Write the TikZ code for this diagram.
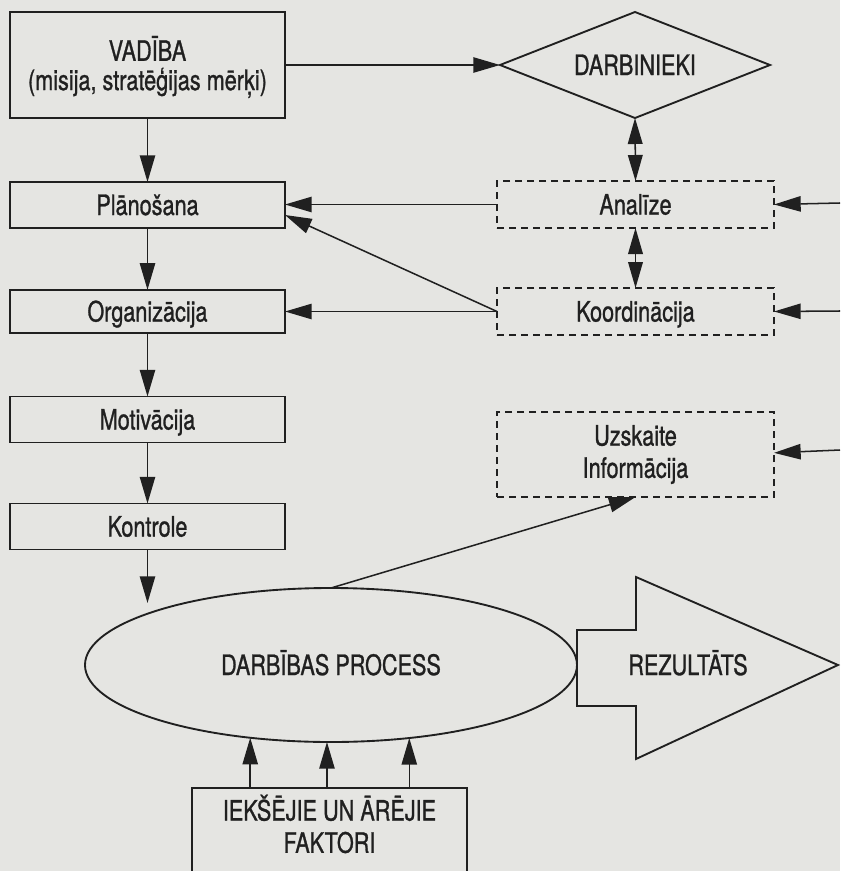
\documentclass[tikz,border=0pt]{standalone}
\usepackage{fontspec}
\setmainfont[FakeStretch=0.77,FakeBold=1.0]{TeX Gyre Heros}
\usetikzlibrary{arrows.meta,shapes.geometric}
\definecolor{paper}{RGB}{229,229,226}
\definecolor{ink}{RGB}{32,32,32}
\begin{document}
\begin{tikzpicture}[x=0.03cm,y=-0.03cm,
  every node/.style={text=ink,inner sep=0pt,outer sep=0pt,
    font=\fontsize{24}{27.5}\selectfont},
  oneline/.style={text height=0.6cm,text depth=0pt},
  box/.style={draw=ink,line width=1.6pt,rectangle,
    minimum width=8.25cm,minimum height=1.38cm},
  dbox/.style={box,dash pattern=on 0.21cm off 0.15cm,
    minimum width=8.31cm,minimum height=1.41cm},
  arr/.style={draw=ink,line width=1.3pt,
    -{Triangle[length=0.8cm,width=0.46cm]}},
  darr/.style={draw=ink,line width=1.3pt,
    {Triangle[length=0.78cm,width=0.44cm]}-{Triangle[length=0.78cm,width=0.44cm]}},
]
\useasboundingbox (0,0) rectangle (840,871);
\fill[paper] (0,0) rectangle (840,871);
\clip (0,0) rectangle (840,871);

% management chain on the left
\node[box,minimum height=3.18cm] (vad) at (147.5,65) {};
\node[align=center,font=\fontsize{24}{25}\selectfont] (vadtxt)
  at (147.5,67) {VADĪBA\\(misija, stratēģijas mērķi)};
\node[box,oneline] (plan) at (147.5,205) {Plānošana};
\node[box,oneline,minimum height=1.3cm] (org) at (147.5,311.5) {Organizācija};
\node[box,oneline] (mot) at (147.5,419.5) {Motivācija};
\node[box,oneline] (kon) at (147.5,526.5) {Kontrole};

% staff and supporting functions on the right
\node[draw=ink,line width=1.6pt,diamond,aspect=2.55,minimum width=8.1cm,
  minimum height=3.18cm,oneline] (dia) at (635,65) {DARBINIEKI};
\node[dbox,oneline] (ana) at (635.5,204.5) {Analīze};
\node[dbox,oneline] (koo) at (635.5,311.5) {Koordinācija};
\node[dbox,minimum height=2.55cm,align=center] (uzs) at (635.5,454.5)
  {Uzskaite\\Informācija};

% process, result and factors
\node[draw=ink,line width=1.6pt,ellipse,minimum width=14.76cm,
  minimum height=4.62cm,oneline] (ell) at (331,665) {DARBĪBAS PROCESS};
\draw[ink,line width=1.6pt] (577,630) -- (636,630) -- (636,577) -- (838,665)
  -- (636,759) -- (636,706) -- (577,706) -- cycle;
\node[oneline] (rez) at (688,665) {REZULTĀTS};
\node[box,minimum height=3cm] (fac) at (329.5,838) {};
\node[align=center] (factxt) at (329.5,824) {IEKŠĒJIE UN ĀRĒJIE\\FAKTORI};

% incoming lines from the right margin
\coordinate (inA) at (840,203);
\coordinate (inK) at (840,311);
\coordinate (inU) at (840,450);

% connectors
\draw[arr] (vad.east) -- (dia.west);
\draw[arr] (vad.south) -- (plan.north);
\draw[arr] (plan.south) -- (org.north);
\draw[arr] (org.south) -- (mot.north);
\draw[arr] (mot.south) -- (kon.north);
\draw[arr,shorten >=0.3cm] (kon.south) -- (kon.south |- ell.164.5);
\draw[darr] (dia.south) -- (ana.north);
\draw[darr] (ana.south) -- (koo.north);
\draw[arr] (ana.west) -- (ana.west -| plan.east);
\draw[arr] (koo.west) -- ([yshift=-0.3cm]plan.east);
\draw[arr] (koo.west) -- (koo.west -| org.east);
\draw[arr] (inA) -- (ana.east);
\draw[arr] (inK) -- (koo.east);
\draw[arr] (inU) -- ([yshift=0.05cm]uzs.east);
\draw[arr] (ell.north) -- (uzs.south);
\draw[arr] (fac.north -| ell.222) -- (ell.222);
\draw[arr] (fac.north -| ell.267) -- (ell.267);
\draw[arr] (fac.north -| ell.317) -- (ell.317);
\end{tikzpicture}
\end{document}
